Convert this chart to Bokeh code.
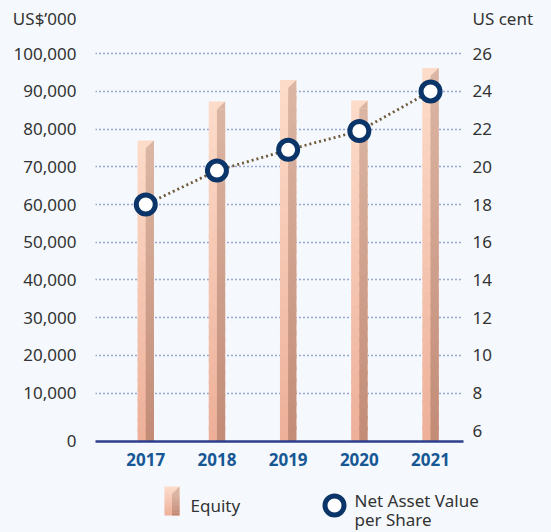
from bokeh.plotting import figure
from bokeh.models import Range1d, LinearAxis, FixedTicker, ColumnDataSource
from bokeh.layouts import column
from bokeh.embed import file_html
from bokeh.resources import INLINE
from bokeh.core.properties import value

# ---------------- data ----------------
years = ["2017", "2018", "2019", "2020", "2021"]
equity = [77000, 87300, 93000, 87600, 96200]          # US$'000
nav = [18.0, 19.8, 20.9, 21.9, 24.0]                   # US cent
left_ticks = [10000, 20000, 30000, 40000, 50000, 60000, 70000, 80000, 90000, 100000]
right_ticks = [6, 8, 10, 12, 14, 16, 18, 20, 22, 24, 26]
left_unit = "US$’000"
right_unit = "US cent"
legend_labels = ["Equity", "Net Asset Value", "per Share"]

# ---------------- style ----------------
BG = "#f5f9fd"
FONT = "Noto Sans"
TXT = "#333333"
YEAR_C = "#175894"
AXIS_C = "#2c3e8c"
GRID_C = "#3f55a5"
RING_C = "#0b3568"
LINE_C = "#6e5a3a"
L_BOT, L_TOP = (238, 176, 153), (252, 219, 201)
R_BOT, R_TOP = (194, 140, 119), (219, 181, 163)

Y0, Y1 = -2840, 103500
X0, X1 = -0.706, 4.463
HW = 0.115          # half bar width (x units)
BEV = 2100          # bevel height (y units)
NS = 30             # gradient slices


def mix(a, b, t):
    return "#%02x%02x%02x" % tuple(int(round(a[k] + (b[k] - a[k]) * t)) for k in range(3))


def strip(h):
    f = figure(width=551, height=h, x_range=Range1d(0, 551), y_range=Range1d(h, 0),
               output_backend="svg", toolbar_location=None, x_axis_type=None, y_axis_type=None,
               min_border=0, background_fill_color=BG, border_fill_color=BG,
               outline_line_color=None, frame_align=False)
    f.xgrid.visible = False
    f.ygrid.visible = False
    return f


# ---------------- unit titles strip ----------------
top = strip(40)
top.text(x=[76], y=[18], text=[left_unit], text_font=value(FONT), text_font_size="17px",
         text_color=TXT, text_baseline="middle", text_align="right")
top.text(x=[472], y=[18], text=[right_unit], text_font=value(FONT), text_font_size="17px",
         text_color=TXT, text_baseline="middle", text_align="left")

# ---------------- main chart ----------------
p = figure(width=551, height=438, x_range=Range1d(X0, X1), y_range=Range1d(Y0, Y1),
           output_backend="svg", toolbar_location=None,
           min_border_left=95, min_border_right=88, min_border_top=0, min_border_bottom=37,
           background_fill_color=BG, border_fill_color=BG, outline_line_color=None,
           frame_align=False)

p.extra_y_ranges = {"nav": Range1d(6 + Y0 / 5000, 6 + Y1 / 5000)}

p.xgrid.grid_line_color = None
p.ygrid.ticker = FixedTicker(ticks=left_ticks)
p.ygrid.grid_line_color = GRID_C
p.ygrid.grid_line_width = 1.4
p.ygrid.grid_line_dash = "1 3"

xa = p.xaxis[0]
xa.ticker = FixedTicker(ticks=list(range(len(years))))
xa.major_label_overrides = {i: y for i, y in enumerate(years)}
xa.axis_line_color = AXIS_C
xa.axis_line_width = 2.5
xa.major_tick_line_color = None
xa.major_tick_out = 0
xa.minor_tick_line_color = None
xa.major_label_text_font = FONT
xa.major_label_text_font_size = "17px"
xa.major_label_text_font_style = "bold"
xa.major_label_text_color = YEAR_C
xa.major_label_standoff = 11

ya = p.yaxis[0]
ya.ticker = FixedTicker(ticks=[-2600] + left_ticks)
ov = {v: f"{v:,}" for v in left_ticks}
ov[-2600] = "0"
ya.major_label_overrides = ov
ya.axis_line_color = None
ya.major_tick_line_color = None
ya.major_tick_out = 0
ya.minor_tick_line_color = None
ya.major_label_text_font = FONT
ya.major_label_text_font_size = "17px"
ya.major_label_text_color = TXT
ya.major_label_standoff = 19

ra = LinearAxis(y_range_name="nav", ticker=FixedTicker(ticks=right_ticks))
ra.axis_line_color = None
ra.major_tick_line_color = None
ra.major_tick_out = 0
ra.minor_tick_line_color = None
ra.major_label_text_font = FONT
ra.major_label_text_font_size = "17px"
ra.major_label_text_color = TXT
ra.major_label_standoff = 9
p.add_layout(ra, "right")

lq = dict(left=[], right=[], bottom=[], top=[], color=[])
rq = dict(left=[], right=[], bottom=[], top=[], color=[])
tri_x, tri_y, tri_c = [], [], []
for i, v in enumerate(equity):
    h = v - Y0
    rtop = v - BEV
    for s in range(NS):
        t = s / (NS - 1)
        b = Y0 + h * s / NS
        tp = Y0 + h * (s + 1.3) / NS if s < NS - 1 else v
        lq["left"].append(i - HW); lq["right"].append(i + HW)
        lq["bottom"].append(b); lq["top"].append(tp); lq["color"].append(mix(L_BOT, L_TOP, t))
        rb = Y0 + (rtop - Y0) * s / NS
        rt = Y0 + (rtop - Y0) * (s + 1.3) / NS if s < NS - 1 else rtop
        rq["left"].append(i); rq["right"].append(i + HW)
        rq["bottom"].append(rb); rq["top"].append(rt); rq["color"].append(mix(R_BOT, R_TOP, t))
    tri_x.append([i, i + HW, i + HW])
    tri_y.append([v - BEV, v, v - BEV])
    tri_c.append(mix(R_BOT, R_TOP, 1.0))

p.quad(source=ColumnDataSource(lq), left="left", right="right", bottom="bottom", top="top",
       fill_color="color", line_color=None)
p.quad(source=ColumnDataSource(rq), left="left", right="right", bottom="bottom", top="top",
       fill_color="color", line_color=None)
p.patches(tri_x, tri_y, fill_color=tri_c, line_color=None)

xs = list(range(len(years)))
p.line(xs, nav, y_range_name="nav", line_color=LINE_C, line_width=2.8, line_dash="2 3")
p.scatter(xs, nav, y_range_name="nav", size=19, line_width=5, line_color=RING_C, fill_color="white")

# ---------------- legend strip ----------------
q = strip(54)
ix0, ixm, ix1, iy0, iy1 = 164, 171.5, 179, 8, 37
eq = dict(left=[], right=[], bottom=[], top=[], color=[])
n2 = 16
for s in range(n2):
    t = s / (n2 - 1)
    b = iy1 - (iy1 - iy0) * s / n2
    tp = iy1 - (iy1 - iy0) * (s + 1.3) / n2 if s < n2 - 1 else iy0
    eq["left"].append(ix0); eq["right"].append(ix1); eq["bottom"].append(b); eq["top"].append(tp)
    eq["color"].append(mix(L_BOT, L_TOP, t))
    rt0 = iy0 + 7.5
    rb = iy1 - (iy1 - rt0) * s / n2
    rt = iy1 - (iy1 - rt0) * (s + 1.3) / n2 if s < n2 - 1 else rt0
    eq["left"].append(ixm); eq["right"].append(ix1); eq["bottom"].append(rb); eq["top"].append(rt)
    eq["color"].append(mix(R_BOT, R_TOP, t))
q.quad(source=ColumnDataSource(eq), left="left", right="right", bottom="bottom", top="top",
       fill_color="color", line_color=None)
q.patch([ixm, ix1, ix1], [iy0 + 7.5, iy0, iy0 + 7.5], fill_color=mix(R_BOT, R_TOP, 1.0), line_color=None)

q.text(x=[190], y=[27], text=[legend_labels[0]], text_font=value(FONT), text_font_size="17px",
       text_color=TXT, text_baseline="middle", text_align="left")
q.scatter(x=[334], y=[27], size=19, line_width=5, line_color=RING_C, fill_color="white")
q.text(x=[354, 354], y=[22, 41], text=legend_labels[1:], text_font=value(FONT),
       text_font_size="17px", text_color=TXT, text_baseline="middle", text_align="left")

layout = column(top, p, q, spacing=0, styles={"background-color": BG})
open("out.html", "w").write(file_html(layout, INLINE))
